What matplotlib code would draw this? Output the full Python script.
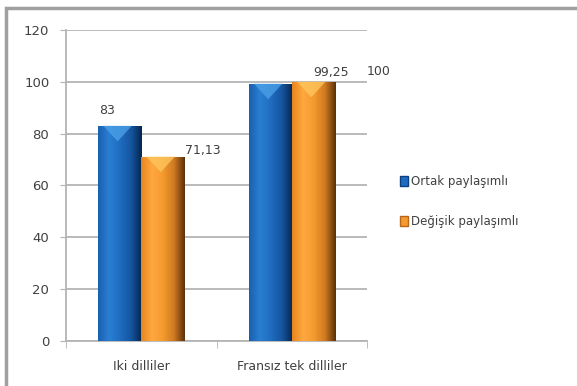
import numpy as np
import matplotlib
matplotlib.use('Agg')
import matplotlib.pyplot as plt
from matplotlib.patches import Rectangle, Polygon
from matplotlib.colors import LinearSegmentedColormap

# data
categories = ['Iki dilliler', 'Fransız tek dilliler']
series_names = ['Ortak paylaşımlı', 'Değişik paylaşımlı']
ortak = [83, 99.25]
degisik = [71.13, 100]
labels_ortak = ['83', '99,25']
labels_degisik = ['71,13', '100']

# styling
blue_cmap = LinearSegmentedColormap.from_list('b', ['#1a5fb0', '#2a7fd2', '#1f6cc0', '#1556a0', '#06254f'])
orange_cmap = LinearSegmentedColormap.from_list('o', ['#e8841e', '#ffa840', '#f59a2e', '#d07a22', '#5a3008'])
grid_col = '#b4b4b4'
txt_col = '#404040'

fig = plt.figure(figsize=(5.77, 3.86), dpi=100)
ax = fig.add_axes([0.1144, 0.1166, 0.522, 0.806])

x = np.arange(len(categories))
w = 0.286
grad = np.linspace(0, 1, 256).reshape(1, -1)


def shaded_bars(xpos, vals, cmap, face, hi):
    bars = ax.bar(xpos, vals, w, color=face, zorder=3, linewidth=0)
    for b in bars:
        x0, y0 = b.get_x(), b.get_y()
        bw, bh = b.get_width(), b.get_height()
        im = ax.imshow(grad, cmap=cmap, aspect='auto', zorder=4,
                       extent=(x0, x0 + bw, y0, y0 + bh), interpolation='bilinear')
        im.set_clip_path(b)
        # light chevron at the top of the cylinder
        ax.add_patch(Polygon([(x0 + bw * 0.12, y0 + bh), (x0 + bw * 0.78, y0 + bh),
                              (x0 + bw * 0.45, y0 + bh - 6)],
                             closed=True, facecolor=hi, edgecolor='none', alpha=0.75, zorder=5))
    return bars


b1 = shaded_bars(x - w / 2, ortak, blue_cmap, '#1f6cc0', '#4da3ea')
b2 = shaded_bars(x + w / 2, degisik, orange_cmap, '#f59a2e', '#ffc860')

# value labels (offsets in pixels, as placed in the original)
offs1 = [(-13, 15), (61, 11)]
offs2 = [(40, 6), (65, 10)]
for b, lab, o in zip(b1, labels_ortak, offs1):
    ax.annotate(lab, (b.get_x() + b.get_width() / 2, b.get_height()),
                xytext=o, textcoords='offset pixels', ha='center', va='center',
                fontsize=9, color=txt_col, zorder=6)
for b, lab, o in zip(b2, labels_degisik, offs2):
    ax.annotate(lab, (b.get_x() + b.get_width() / 2, b.get_height()),
                xytext=o, textcoords='offset pixels', ha='center', va='center',
                fontsize=9, color=txt_col, zorder=6)

ax.set_xlim(-0.5, len(categories) - 0.5)
ax.set_ylim(0, 120)
ax.set_yticks(np.arange(0, 121, 20))
ax.set_xticks(x)
ax.set_xticklabels(categories)
ax.set_xticks([-0.5, 0.5, 1.5], minor=True)
ax.tick_params(axis='x', which='major', length=0, pad=14, labelsize=9, labelcolor=txt_col)
ax.tick_params(axis='x', which='minor', length=5, color=grid_col, direction='out')
ax.tick_params(axis='y', length=4, color=grid_col, labelsize=9.5, labelcolor=txt_col, pad=8)
ax.yaxis.grid(True, color=grid_col, linewidth=1.3, zorder=0)
ax.set_axisbelow(True)
for s in ['top', 'right']:
    ax.spines[s].set_visible(False)
ax.spines['left'].set_color(grid_col)
ax.spines['bottom'].set_color(grid_col)
ax.spines['left'].set_linewidth(1.3)
ax.spines['bottom'].set_linewidth(1.3)

# legend
handles = [Rectangle((0, 0), 1, 1, facecolor='#1f6cc0', edgecolor='#0e3f80'),
           Rectangle((0, 0), 1, 1, facecolor='#f59a2e', edgecolor='#b8661a')]
fig.legend(handles, series_names, loc='center left', bbox_to_anchor=(0.675, 0.478),
           frameon=False, fontsize=8.5, handlelength=0.7, handleheight=0.9,
           handletextpad=0.2, labelspacing=2.3, labelcolor=txt_col)

# outer frame
fig.patches.append(Rectangle((0.011, -0.02), 1.1, 0.999, transform=fig.transFigure,
                             fill=False, edgecolor='#a0a0a0', linewidth=2.5))

fig.savefig('out.png', dpi=100)
